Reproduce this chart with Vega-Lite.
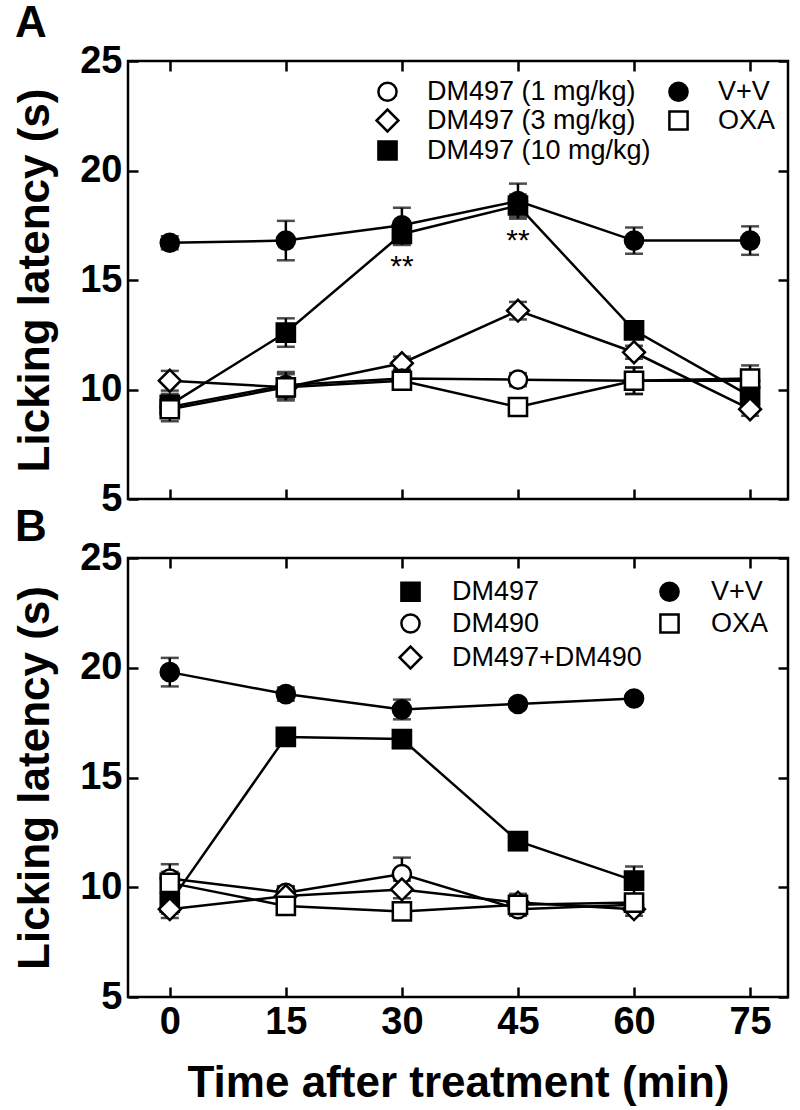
{
  "$schema": "https://vega.github.io/schema/vega-lite/v6.json",
  "background": "white",
  "padding": {"left": 12, "top": 0, "right": 8, "bottom": 0},
  "config": {
    "font": "Liberation Sans",
    "view": {"stroke": "black", "strokeWidth": 2.5},
    "axis": {
      "domain": false, "grid": false,
      "tickColor": "black", "tickWidth": 2.5, "tickSize": -10,
      "labelFont": "Liberation Sans", "labelFontSize": 38, "labelFontWeight": "bold", "labelColor": "black",
      "titleFont": "Liberation Sans", "titleFontSize": 44, "titleFontWeight": "bold", "titleColor": "black"
    },
    "legend": {
      "title": null, "labelFont": "Liberation Sans", "labelFontSize": 27, "labelColor": "black", "labelLimit": 400,
      "symbolStrokeColor": "black", "symbolFillColor": "white", "symbolStrokeWidth": 2.5, "symbolSize": 330, "padding": 0
    },
    "title": {"font": "Liberation Sans", "fontSize": 44, "fontWeight": "bold", "color": "black", "baseline": "alphabetic"}
  },
  "spacing": -16,
  "resolve": {"scale": {"shape": "independent", "fill": "independent"}, "legend": {"shape": "independent", "fill": "independent"}},
  "vconcat": [
    {
      "width": 660, "height": 438,
      "title": {"text": "A", "anchor": "start", "frame": "group", "dx": -113, "offset": -4},
      "data": {"values": [
        {"series": "V+V", "t": 0, "mean": 16.7, "sem": 0.3},
        {"series": "V+V", "t": 15, "mean": 16.8, "sem": 0.9},
        {"series": "V+V", "t": 30, "mean": 17.5, "sem": 0.8},
        {"series": "V+V", "t": 45, "mean": 18.6, "sem": 0.8},
        {"series": "V+V", "t": 60, "mean": 16.8, "sem": 0.6},
        {"series": "V+V", "t": 75, "mean": 16.8, "sem": 0.65},
        {"series": "DM497 (10 mg/kg)", "t": 0, "mean": 9.3, "sem": 0.5},
        {"series": "DM497 (10 mg/kg)", "t": 15, "mean": 12.6, "sem": 0.65},
        {"series": "DM497 (10 mg/kg)", "t": 30, "mean": 17.1, "sem": 0.5},
        {"series": "DM497 (10 mg/kg)", "t": 45, "mean": 18.4, "sem": 0.5},
        {"series": "DM497 (10 mg/kg)", "t": 60, "mean": 12.7, "sem": 0.3},
        {"series": "DM497 (10 mg/kg)", "t": 75, "mean": 9.7, "sem": 0.3},
        {"series": "DM497 (3 mg/kg)", "t": 0, "mean": 10.4, "sem": 0.45},
        {"series": "DM497 (3 mg/kg)", "t": 15, "mean": 10.1, "sem": 0.4},
        {"series": "DM497 (3 mg/kg)", "t": 30, "mean": 11.2, "sem": 0.3},
        {"series": "DM497 (3 mg/kg)", "t": 45, "mean": 13.6, "sem": 0.4},
        {"series": "DM497 (3 mg/kg)", "t": 60, "mean": 11.7, "sem": 0.3},
        {"series": "DM497 (3 mg/kg)", "t": 75, "mean": 9.1, "sem": 0.3},
        {"series": "DM497 (1 mg/kg)", "t": 0, "mean": 9.2, "sem": 0.4},
        {"series": "DM497 (1 mg/kg)", "t": 15, "mean": 10.2, "sem": 0.6},
        {"series": "DM497 (1 mg/kg)", "t": 30, "mean": 10.5, "sem": 0.4},
        {"series": "DM497 (1 mg/kg)", "t": 45, "mean": 10.45, "sem": 0.3},
        {"series": "DM497 (1 mg/kg)", "t": 60, "mean": 10.4, "sem": 0.6},
        {"series": "DM497 (1 mg/kg)", "t": 75, "mean": 10.4, "sem": 0.3},
        {"series": "OXA", "t": 0, "mean": 9.1, "sem": 0.55},
        {"series": "OXA", "t": 15, "mean": 10.1, "sem": 0.6},
        {"series": "OXA", "t": 30, "mean": 10.4, "sem": 0.4},
        {"series": "OXA", "t": 45, "mean": 9.2, "sem": 0.35},
        {"series": "OXA", "t": 60, "mean": 10.4, "sem": 0.6},
        {"series": "OXA", "t": 75, "mean": 10.5, "sem": 0.6}
      ]},
      "layer": [
        {
          "mark": {"type": "line", "color": "black", "strokeWidth": 2.5},
          "encoding": {
            "x": {"field": "t", "type": "quantitative", "scale": {"domain": [-5.4, 79.9], "nice": false, "zero": false},
                  "axis": {"values": [0, 15, 30, 45, 60, 75], "labels": false, "title": null, "minExtent": 0, "maxExtent": 0}},
            "y": {"field": "mean", "type": "quantitative", "scale": {"domain": [5, 25], "nice": false, "zero": false},
                  "axis": {"values": [5, 10, 15, 20, 25], "title": "Licking latency (s)", "labelPadding": 16, "titlePadding": 22}},
            "detail": {"field": "series"}
          }
        },
        {
          "mark": {"type": "errorbar", "ticks": true, "size": 18, "thickness": 2.5, "color": "black"},
          "encoding": {
            "x": {"field": "t", "type": "quantitative", "axis": null},
            "y": {"field": "mean", "type": "quantitative", "axis": null},
            "yError": {"field": "sem"}
          }
        },
        {
          "mark": {"type": "point", "filled": true, "stroke": "black", "strokeWidth": 2.5, "size": 330, "opacity": 1},
          "encoding": {
            "x": {"field": "t", "type": "quantitative", "axis": null},
            "y": {"field": "mean", "type": "quantitative", "axis": null},
            "shape": {"field": "series", "type": "nominal",
              "scale": {"domain": ["DM497 (1 mg/kg)", "DM497 (3 mg/kg)", "DM497 (10 mg/kg)", "V+V", "OXA"],
                        "range": ["circle", "M-1.2,0L0,-1.2L1.2,0L0,1.2Z", "square", "circle", "square"]},
              "legend": {"orient": "none", "legendX": 246, "legendY": 17, "columns": 2, "columnPadding": 13, "rowPadding": -2, "labelOffset": 26,
                         "symbolStrokeColor": "black", "symbolFillColor": "white", "symbolStrokeWidth": 2.5,
                         "encode": {"symbols": {
                           "fill": {"condition": {"test": "datum.value === 'V+V' || datum.value === 'DM497 (10 mg/kg)'", "value": "black"}, "value": "white"},
                           "stroke": {"value": "black"}, "strokeWidth": {"value": 2.5}}}}},
            "fill": {"field": "series", "type": "nominal",
              "scale": {"domain": ["DM497 (1 mg/kg)", "DM497 (3 mg/kg)", "DM497 (10 mg/kg)", "V+V", "OXA"],
                        "range": ["white", "white", "black", "black", "white"]},
              "legend": null}
          }
        },
        {
          "data": {"values": [{"t": 30, "y": 15.6, "label": "**"}, {"t": 45, "y": 16.8, "label": "**"}]},
          "mark": {"type": "text", "fontSize": 30, "color": "black"},
          "encoding": {
            "x": {"field": "t", "type": "quantitative", "axis": null},
            "y": {"field": "y", "type": "quantitative", "axis": null},
            "text": {"field": "label"}
          }
        },
        {
          "mark": {"type": "point", "opacity": 0},
          "encoding": {
            "x": {"field": "t", "type": "quantitative", "axis": {"orient": "top", "values": [0, 15, 30, 45, 60, 75], "labels": false, "title": null, "minExtent": 0, "maxExtent": 0}},
            "y": {"field": "mean", "type": "quantitative", "axis": {"orient": "right", "values": [5, 10, 15, 20, 25], "labels": false, "title": null, "minExtent": 0, "maxExtent": 0}}
          }
        }
      ],
      "resolve": {"axis": {"x": "independent", "y": "independent"}}
    },
    {
      "width": 660, "height": 439,
      "title": {"text": "B", "anchor": "start", "frame": "group", "dx": -113, "offset": -11},
      "data": {"values": [
        {"series": "V+V", "t": 0, "mean": 19.8, "sem": 0.65},
        {"series": "V+V", "t": 15, "mean": 18.8, "sem": 0.3},
        {"series": "V+V", "t": 30, "mean": 18.1, "sem": 0.45},
        {"series": "V+V", "t": 45, "mean": 18.35, "sem": 0.2},
        {"series": "V+V", "t": 60, "mean": 18.6, "sem": 0.2},
        {"series": "DM497", "t": 0, "mean": 9.3, "sem": 0.5},
        {"series": "DM497", "t": 15, "mean": 16.85, "sem": 0.3},
        {"series": "DM497", "t": 30, "mean": 16.75, "sem": 0.4},
        {"series": "DM497", "t": 45, "mean": 12.1, "sem": 0.4},
        {"series": "DM497", "t": 60, "mean": 10.3, "sem": 0.65},
        {"series": "DM490", "t": 0, "mean": 10.4, "sem": 0.65},
        {"series": "DM490", "t": 15, "mean": 9.75, "sem": 0.3},
        {"series": "DM490", "t": 30, "mean": 10.6, "sem": 0.75},
        {"series": "DM490", "t": 45, "mean": 9.0, "sem": 0.3},
        {"series": "DM490", "t": 60, "mean": 9.2, "sem": 0.3},
        {"series": "DM497+DM490", "t": 0, "mean": 9.0, "sem": 0.4},
        {"series": "DM497+DM490", "t": 15, "mean": 9.6, "sem": 0.4},
        {"series": "DM497+DM490", "t": 30, "mean": 9.9, "sem": 0.4},
        {"series": "DM497+DM490", "t": 45, "mean": 9.3, "sem": 0.4},
        {"series": "DM497+DM490", "t": 60, "mean": 9.0, "sem": 0.3},
        {"series": "OXA", "t": 0, "mean": 10.2, "sem": 0.5},
        {"series": "OXA", "t": 15, "mean": 9.15, "sem": 0.4},
        {"series": "OXA", "t": 30, "mean": 8.9, "sem": 0.3},
        {"series": "OXA", "t": 45, "mean": 9.2, "sem": 0.3},
        {"series": "OXA", "t": 60, "mean": 9.3, "sem": 0.3}
      ]},
      "layer": [
        {
          "mark": {"type": "line", "color": "black", "strokeWidth": 2.5},
          "encoding": {
            "x": {"field": "t", "type": "quantitative", "scale": {"domain": [-5.4, 79.9], "nice": false, "zero": false},
                  "axis": {"values": [0, 15, 30, 45, 60, 75], "title": "Time after treatment (min)", "labelPadding": 16, "titlePadding": 20}},
            "y": {"field": "mean", "type": "quantitative", "scale": {"domain": [5, 25], "nice": false, "zero": false},
                  "axis": {"values": [5, 10, 15, 20, 25], "title": "Licking latency (s)", "labelPadding": 16, "titlePadding": 22}},
            "detail": {"field": "series"}
          }
        },
        {
          "mark": {"type": "errorbar", "ticks": true, "size": 18, "thickness": 2.5, "color": "black"},
          "encoding": {
            "x": {"field": "t", "type": "quantitative", "axis": null},
            "y": {"field": "mean", "type": "quantitative", "axis": null},
            "yError": {"field": "sem"}
          }
        },
        {
          "mark": {"type": "point", "filled": true, "stroke": "black", "strokeWidth": 2.5, "size": 330, "opacity": 1},
          "encoding": {
            "x": {"field": "t", "type": "quantitative", "axis": null},
            "y": {"field": "mean", "type": "quantitative", "axis": null},
            "shape": {"field": "series", "type": "nominal",
              "scale": {"domain": ["DM497", "DM490", "DM497+DM490", "V+V", "OXA"],
                        "range": ["square", "circle", "M-1.2,0L0,-1.2L1.2,0L0,1.2Z", "circle", "square"]},
              "legend": {"orient": "none", "legendX": 269, "legendY": 20, "columns": 2, "columnPadding": 13, "rowPadding": 3, "labelOffset": 28,
                         "symbolStrokeColor": "black", "symbolFillColor": "white", "symbolStrokeWidth": 2.5,
                         "encode": {"symbols": {
                           "fill": {"condition": {"test": "datum.value === 'V+V' || datum.value === 'DM497'", "value": "black"}, "value": "white"},
                           "stroke": {"value": "black"}, "strokeWidth": {"value": 2.5}}}}},
            "fill": {"field": "series", "type": "nominal",
              "scale": {"domain": ["DM497", "DM490", "DM497+DM490", "V+V", "OXA"],
                        "range": ["black", "white", "white", "black", "white"]},
              "legend": null}
          }
        },
        {
          "mark": {"type": "point", "opacity": 0},
          "encoding": {
            "x": {"field": "t", "type": "quantitative", "axis": {"orient": "top", "values": [0, 15, 30, 45, 60, 75], "labels": false, "title": null, "minExtent": 0, "maxExtent": 0}},
            "y": {"field": "mean", "type": "quantitative", "axis": {"orient": "right", "values": [5, 10, 15, 20, 25], "labels": false, "title": null, "minExtent": 0, "maxExtent": 0}}
          }
        }
      ],
      "resolve": {"axis": {"x": "independent", "y": "independent"}}
    }
  ]
}
